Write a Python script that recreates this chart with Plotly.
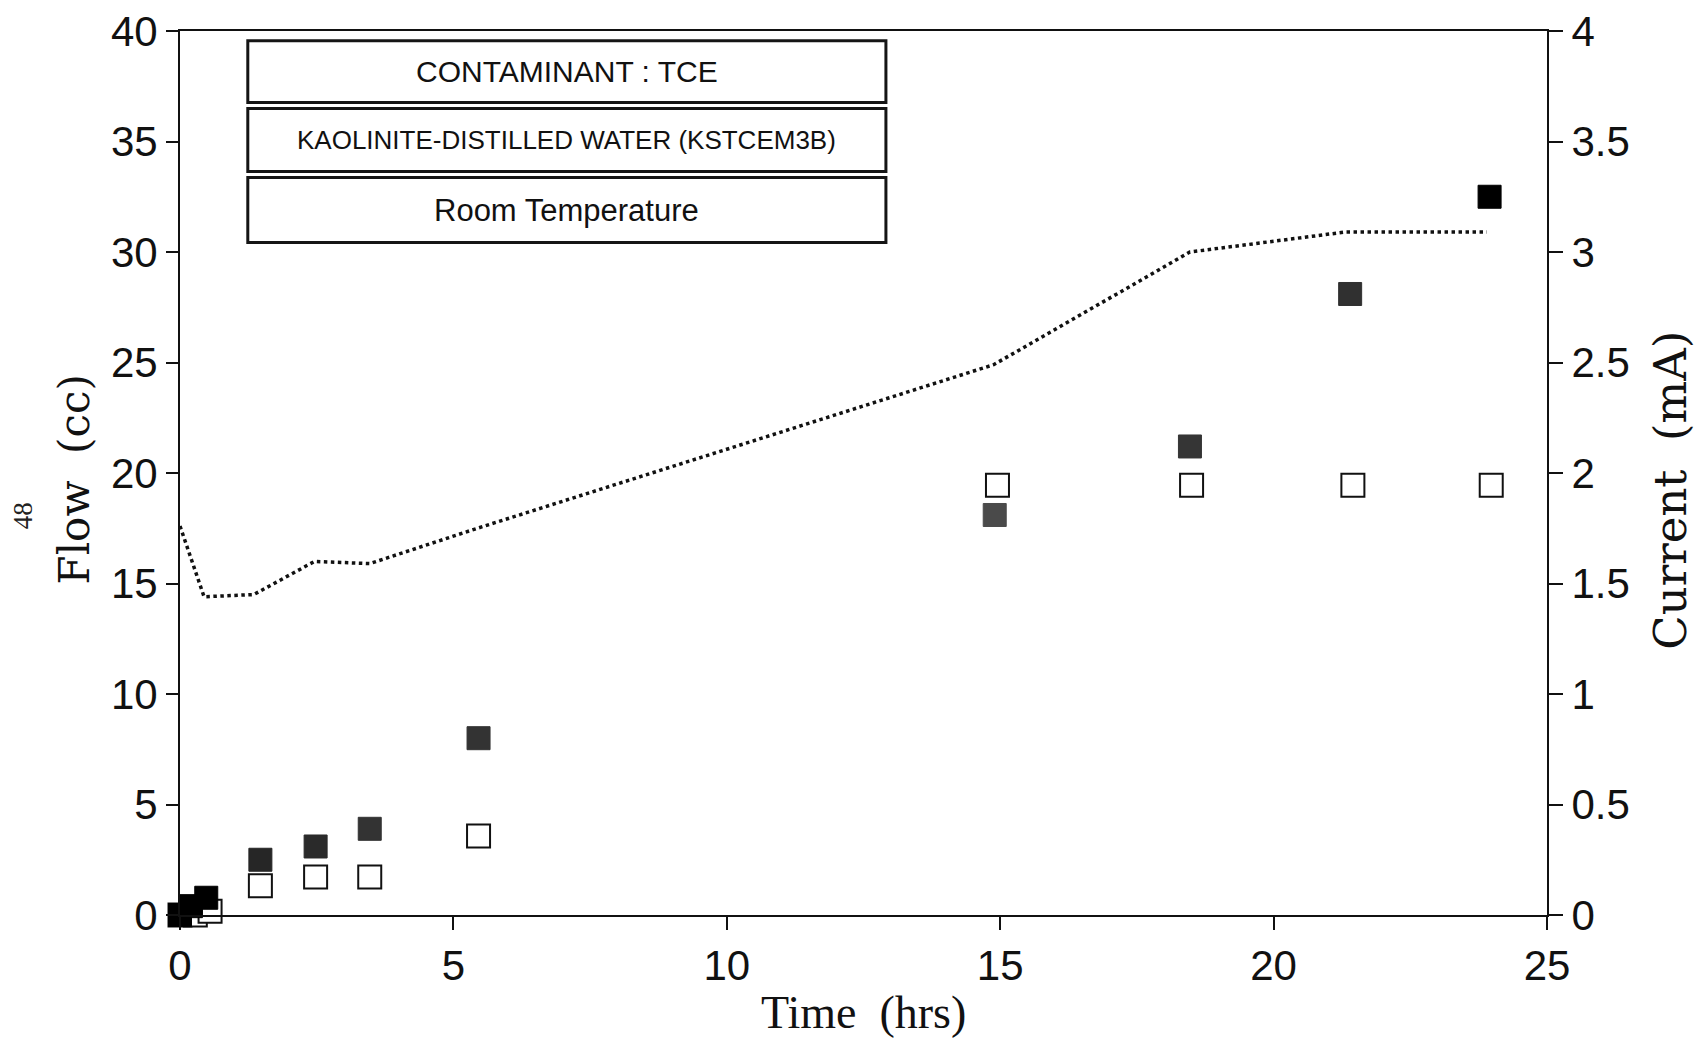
import plotly.graph_objects as go

# ---- data ----
filled_time = [0.0, 0.2, 0.48, 1.47, 2.48, 3.47, 5.46, 14.9, 18.47, 21.4, 23.95]
filled_flow = [0.0, 0.4, 0.78, 2.5, 3.1, 3.9, 8.0, 18.1, 21.2, 28.1, 32.5]
filled_colors = ["#000000", "#000000", "#000000", "#262626", "#2a2a2a", "#333333",
                 "#333333", "#4a4a4a", "#353535", "#303030", "#000000"]

open_time = [0.0, 0.28, 0.55, 1.47, 2.48, 3.47, 5.46, 14.95, 18.5, 21.45, 23.98]
open_flow = [0.0, 0.0, 0.17, 1.32, 1.72, 1.72, 3.58, 19.45, 19.45, 19.45, 19.45]

current_time = [0.0, 0.44, 1.35, 2.46, 3.47, 5.44, 14.88, 18.47, 21.3, 23.9]
current_mA = [1.76, 1.44, 1.45, 1.60, 1.59, 1.75, 2.49, 3.00, 3.09, 3.09]

info_lines = ["CONTAMINANT : TCE", "KAOLINITE-DISTILLED WATER (KSTCEM3B)", "Room Temperature"]
info_sizes = [30, 26, 31]

x_ticks = [0, 5, 10, 15, 20, 25]
y_ticks = [0, 5, 10, 15, 20, 25, 30, 35, 40]
y2_ticks = [0, 0.5, 1, 1.5, 2, 2.5, 3, 3.5, 4]

fig = go.Figure()

fig.add_trace(go.Scatter(
    x=current_time, y=current_mA, mode="lines", yaxis="y2",
    line=dict(color="#111111", width=3.5, dash="dot"), showlegend=False))

fig.add_trace(go.Scatter(
    x=open_time, y=open_flow, mode="markers",
    marker=dict(symbol="square", size=23, color="white",
                line=dict(color="#111111", width=2)),
    cliponaxis=False, showlegend=False))

fig.add_trace(go.Scatter(
    x=filled_time, y=filled_flow, mode="markers",
    marker=dict(symbol="square", size=23, color=filled_colors,
                line=dict(color=filled_colors, width=1)),
    cliponaxis=False, showlegend=False))

sans = "Liberation Sans, Arial, sans-serif"
serif = "Liberation Serif, Times New Roman, serif"
wide_serif = "DejaVu Serif, serif"

# info boxes (data coordinates)
box_y = [(36.76, 39.56), (33.64, 36.49), (30.43, 33.37)]
for (y0, y1), txt, fs in zip(box_y, info_lines, info_sizes):
    fig.add_shape(type="rect", xref="x", yref="y", x0=1.24, x1=12.91, y0=y0, y1=y1,
                  line=dict(color="#151515", width=3), fillcolor="white", layer="above")
    fig.add_annotation(x=7.075, y=(y0 + y1) / 2, xref="x", yref="y", text=txt,
                       showarrow=False, font=dict(family=sans, size=fs, color="#111111"))

# axis titles
fig.add_annotation(x=0.5, y=0, xref="paper", yref="paper", text="Time  (hrs)",
                   showarrow=False, xanchor="center", yanchor="middle", yshift=-97,
                   font=dict(family=serif, size=46, color="#111111"))
fig.add_annotation(x=0, y=0.4927, xref="paper", yref="paper", text="Flow  (cc)",
                   showarrow=False, textangle=-90, xanchor="center", yanchor="middle",
                   xshift=-106, font=dict(family=wide_serif, size=42, color="#111111"))
fig.add_annotation(x=1, y=0.480, xref="paper", yref="paper", text="Current  (mA)",
                   showarrow=False, textangle=-90, xanchor="center", yanchor="middle",
                   xshift=124, font=dict(family=wide_serif, size=45, color="#111111"))
fig.add_annotation(x=0, y=0.451, xref="paper", yref="paper", text="48",
                   showarrow=False, textangle=-90, xanchor="center", yanchor="middle",
                   xshift=-157, font=dict(family=serif, size=27, color="#222222"))

tickfont = dict(family=sans, size=42, color="#111111")
fig.update_layout(
    width=1701, height=1038,
    margin=dict(l=180, r=154, t=31, b=123),
    paper_bgcolor="white", plot_bgcolor="white",
    xaxis=dict(range=[0, 25], tickvals=x_ticks, ticks="outside", ticklen=13, tickwidth=2,
               tickcolor="#111111", showline=True, linecolor="#111111", linewidth=2,
               mirror=True, showgrid=False, zeroline=False, tickfont=tickfont,
               automargin=False),
    yaxis=dict(range=[0, 40], tickvals=y_ticks, ticks="outside", ticklen=12, tickwidth=2,
               tickcolor="#111111", showline=True, linecolor="#111111", linewidth=2,
               showgrid=False, zeroline=False, tickfont=tickfont, automargin=False),
    yaxis2=dict(range=[0, 4], tickvals=y2_ticks, overlaying="y", side="right",
                ticks="outside", ticklen=14, tickwidth=2, tickcolor="#111111",
                showline=True, linecolor="#111111", linewidth=2,
                showgrid=False, zeroline=False, tickfont=tickfont, automargin=False),
)

fig.write_html("out.html")
